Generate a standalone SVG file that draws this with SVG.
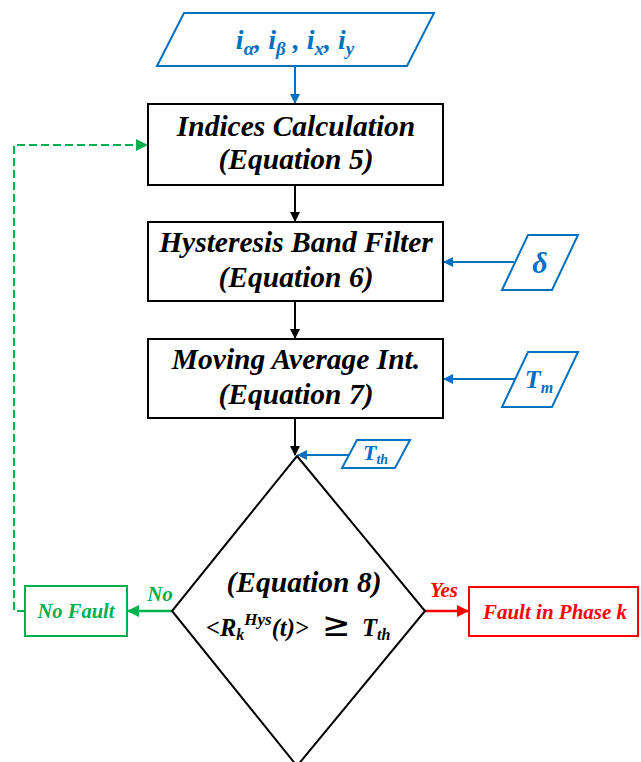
<svg xmlns="http://www.w3.org/2000/svg" width="641" height="762" viewBox="0 0 641 762">
<style>
.box{fill:#fff;stroke:#000;stroke-width:2}
.big{font-size:29.5px;fill:#000;text-anchor:middle}
.blue{fill:#0070C0}
.inp{fill:#fff;stroke:#0070C0;stroke-width:2}
</style>
<defs>
<marker id="ak" markerWidth="10" markerHeight="10" refX="9" refY="5" orient="auto" markerUnits="userSpaceOnUse"><path d="M0,0 L10,5 L0,10 z" fill="#000"/></marker>
<marker id="ab" markerWidth="10" markerHeight="10" refX="9" refY="5" orient="auto" markerUnits="userSpaceOnUse"><path d="M0,0 L10,5 L0,10 z" fill="#0070C0"/></marker>
<marker id="ag" markerWidth="12" markerHeight="12" refX="11" refY="6" orient="auto" markerUnits="userSpaceOnUse"><path d="M0,0 L12,6 L0,12 z" fill="#00B050"/></marker>
<marker id="ar" markerWidth="12" markerHeight="12" refX="11" refY="6" orient="auto" markerUnits="userSpaceOnUse"><path d="M0,0 L12,6 L0,12 z" fill="#FF0000"/></marker>
</defs>
<g id="connectors">
<line x1="295" y1="66" x2="295" y2="103" stroke="#0070C0" stroke-width="2" marker-end="url(#ab)"/>
<line x1="295" y1="185" x2="295" y2="221" stroke="#000" stroke-width="2" marker-end="url(#ak)"/>
<line x1="295" y1="301" x2="295" y2="338" stroke="#000" stroke-width="2" marker-end="url(#ak)"/>
<line x1="295" y1="418" x2="295" y2="455" stroke="#000" stroke-width="2" marker-end="url(#ak)"/>
<line x1="514" y1="262" x2="444" y2="262" stroke="#0070C0" stroke-width="2" marker-end="url(#ab)"/>
<line x1="515" y1="379" x2="444" y2="379" stroke="#0070C0" stroke-width="2" marker-end="url(#ab)"/>
<line x1="349" y1="455" x2="298" y2="455" stroke="#0070C0" stroke-width="2" marker-end="url(#ab)"/>
<line x1="172" y1="611" x2="128" y2="611" stroke="#00B050" stroke-width="2.5" marker-end="url(#ag)"/>
<line x1="425" y1="611" x2="468" y2="611" stroke="#FF0000" stroke-width="2.5" marker-end="url(#ar)"/>
<path d="M25,611 H14 V145 H147" fill="none" stroke="#00B050" stroke-width="2" stroke-dasharray="8,4" marker-end="url(#ag)"/>
<text x="160" y="601" font-family="Liberation Serif" font-weight="bold" font-style="italic" font-size="21" fill="#00B050" text-anchor="middle">No</text>
<text x="444" y="597" font-family="Liberation Serif" font-weight="bold" font-style="italic" font-size="21" fill="#FF0000" text-anchor="middle">Yes</text>
</g>
<g id="input">
<polygon class="inp" points="184,13 434,13 407,66 157,66"/>
<text class="blue" x="295" y="49" font-family="Liberation Serif" font-weight="bold" font-style="italic" font-size="28" text-anchor="middle">i<tspan font-size="19" dy="6">α</tspan><tspan dy="-6">, i</tspan><tspan font-size="19" dy="6">β</tspan><tspan dy="-6"> , i</tspan><tspan font-size="19" dy="6">x</tspan><tspan dy="-6">, i</tspan><tspan font-size="19" dy="6">y</tspan></text>
</g>
<g id="indices">
<rect class="box" x="148" y="104" width="295" height="81"/>
<text class="big" x="296" y="136" font-family="Liberation Serif" font-weight="bold" font-style="italic">Indices Calculation</text>
<text class="big" x="296" y="169" font-family="Liberation Serif" font-weight="bold" font-style="italic">(Equation 5)</text>
</g>
<g id="hysteresis">
<rect class="box" x="148" y="222" width="295" height="79"/>
<text class="big" x="296" y="252" font-family="Liberation Serif" font-weight="bold" font-style="italic">Hysteresis Band Filter</text>
<text class="big" x="296" y="287" font-family="Liberation Serif" font-weight="bold" font-style="italic">(Equation 6)</text>
</g>
<g id="delta">
<polygon class="inp" points="528,235 578,235 552,290 502,290"/>
<text class="blue" x="540" y="273" font-family="Liberation Serif" font-weight="bold" font-style="italic" font-size="30" text-anchor="middle">δ</text>
</g>
<g id="moving">
<rect class="box" x="148" y="339" width="295" height="79"/>
<text class="big" x="296" y="369" font-family="Liberation Serif" font-weight="bold" font-style="italic">Moving Average Int.</text>
<text class="big" x="296" y="404" font-family="Liberation Serif" font-weight="bold" font-style="italic">(Equation 7)</text>
</g>
<g id="tm">
<polygon class="inp" points="528,352 578,352 552,407 502,407"/>
<text class="blue" x="539" y="388" font-family="Liberation Serif" font-weight="bold" font-style="italic" font-size="26" text-anchor="middle">T<tspan font-size="16" dy="5">m</tspan></text>
</g>
<g id="tth">
<polygon class="inp" points="357,440 410,440 395,468 342,468"/>
<text class="blue" x="363" y="460" font-family="Liberation Serif" font-weight="bold" font-style="italic" font-size="22">T<tspan font-size="14" dy="4">th</tspan></text>
</g>
<g id="decision">
<polygon points="297,456 425,611 297,766 172,611" fill="#fff" stroke="#000" stroke-width="2"/>
<text x="304" y="592" font-family="Liberation Serif" font-weight="bold" font-style="italic" font-size="29.5" text-anchor="middle">(Equation 8)</text>
<text x="206" y="636" font-family="Liberation Serif" font-weight="bold" font-style="italic" font-size="24.5">&lt;R<tspan font-size="16" dy="4">k</tspan><tspan font-size="17" dy="-15">Hys</tspan><tspan dy="11">(t)&gt;</tspan><tspan x="322" font-style="normal" font-weight="normal" font-size="34" font-family="DejaVu Sans">≥</tspan><tspan x="362">T</tspan><tspan font-size="16" dy="4">th</tspan></text>
</g>
<g id="nofault">
<rect x="25" y="586" width="102" height="50" fill="#fff" stroke="#00B050" stroke-width="2"/>
<text x="76" y="618" font-family="Liberation Serif" font-weight="bold" font-style="italic" font-size="20.5" fill="#00B050" text-anchor="middle">No Fault</text>
</g>
<g id="fault">
<rect x="469" y="587" width="169" height="49" fill="#fff" stroke="#FF0000" stroke-width="2"/>
<text x="555" y="619" font-family="Liberation Serif" font-weight="bold" font-style="italic" font-size="21" fill="#FF0000" text-anchor="middle">Fault in Phase k</text>
</g>
</svg>
